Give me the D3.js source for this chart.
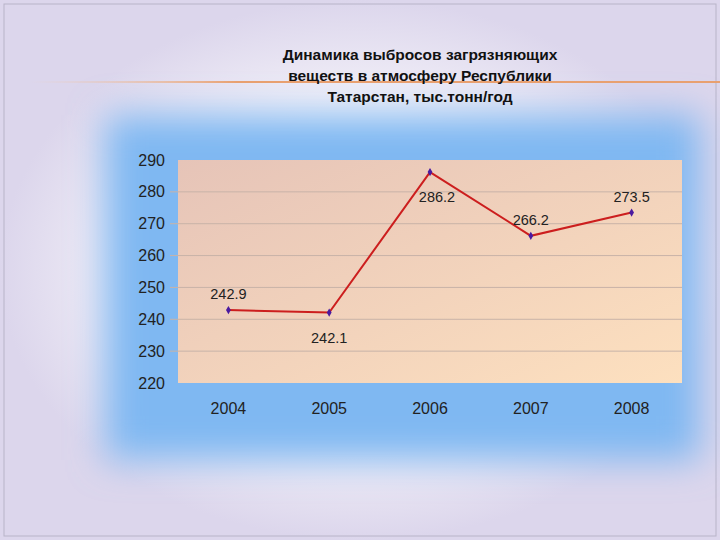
<!DOCTYPE html>
<html><head><meta charset="utf-8">
<script src="https://cdn.jsdelivr.net/npm/d3@7"></script>
<style>body{margin:0;background:#fff}svg{display:block}</style>
</head><body>
<script>
const years = ["2004", "2005", "2006", "2007", "2008"];
const values = [242.9, 242.1, 286.2, 266.2, 273.5];
const yTicks = [220, 230, 240, 250, 260, 270, 280, 290];
const labelAbove = [true, false, false, true, true];

const W = 720, H = 540;
const svg = d3.select("body").append("svg").attr("width", W).attr("height", H);
const defs = svg.append("defs");

// slide background
const rg = defs.append("radialGradient").attr("id", "bg");
rg.append("stop").attr("offset", "40%").attr("stop-color", "#ffffff");
rg.append("stop").attr("offset", "100%").attr("stop-color", "#dcd6ec");
svg.append("rect").attr("width", W).attr("height", H).attr("fill", "url(#bg)");
svg.append("rect").attr("x", 4).attr("y", 4).attr("width", W - 8).attr("height", H - 8)
  .attr("fill", "none").attr("stroke", "#b8b4c8");

// blue glow
defs.append("filter").attr("id", "blur").attr("x", "-30%").attr("y", "-30%").attr("width", "160%").attr("height", "160%")
  .append("feGaussianBlur").attr("stdDeviation", 18);
svg.append("rect").attr("x", 105).attr("y", 115).attr("width", 595).attr("height", 345)
  .attr("fill", "#7fb8f2").attr("filter", "url(#blur)");

// title and rule line
const lg = defs.append("linearGradient").attr("id", "rule");
lg.append("stop").attr("offset", "0%").attr("stop-color", "#f3c9a8").attr("stop-opacity", 0);
lg.append("stop").attr("offset", "30%").attr("stop-color", "#e8a070");
lg.append("stop").attr("offset", "100%").attr("stop-color", "#e8a070");
svg.append("rect").attr("x", 30).attr("y", 81).attr("width", 690).attr("height", 2).attr("fill", "url(#rule)");
const title = ["Динамика выбросов загрязняющих", "веществ в атмосферу Республики", "Татарстан, тыс.тонн/год"];
svg.append("g").selectAll("text").data(title).join("text")
  .attr("x", 420).attr("y", (d, i) => 60 + i * 21).attr("text-anchor", "middle")
  .attr("font-family", "Liberation Sans, Arial, sans-serif").attr("font-size", 15.5).attr("font-weight", "bold")
  .attr("fill", "#111").text(d => d);

// chart
const x = d3.scaleBand().domain(years).range([178, 682]);
const y = d3.scaleLinear().domain([220, 290]).range([383, 160]);

const pg = defs.append("linearGradient").attr("id", "plot").attr("x1", 0).attr("y1", 0).attr("x2", 1).attr("y2", 1);
pg.append("stop").attr("offset", "0%").attr("stop-color", "#e6c4b8");
pg.append("stop").attr("offset", "100%").attr("stop-color", "#fde0bf");
svg.append("rect").attr("x", 178).attr("y", y(290)).attr("width", 504).attr("height", y(220) - y(290))
  .attr("fill", "url(#plot)");

svg.append("g").selectAll("line").data(yTicks.filter(t => t > 220 && t < 290)).join("line")
  .attr("x1", 170).attr("x2", 682).attr("y1", d => y(d)).attr("y2", d => y(d))
  .attr("stroke", "#c8b3a8").attr("stroke-width", 1);

const yAxis = svg.append("g").attr("transform", "translate(165,0)")
  .call(d3.axisLeft(y).tickValues(yTicks).tickSize(0).tickPadding(0));
yAxis.select(".domain").remove();
yAxis.selectAll("text").attr("font-family", "Liberation Sans, Arial, sans-serif").attr("font-size", 16).attr("fill", "#222");

const xAxis = svg.append("g").attr("transform", "translate(0,409)")
  .call(d3.axisBottom(x).tickSize(0).tickPadding(0));
xAxis.select(".domain").remove();
xAxis.selectAll("text").attr("font-family", "Liberation Sans, Arial, sans-serif").attr("font-size", 16).attr("fill", "#222").attr("dy", "0.3em");

const cx = d => x(d) + x.bandwidth() / 2;
svg.append("path").datum(values)
  .attr("d", d3.line().x((d, i) => cx(years[i])).y(d => y(d)))
  .attr("fill", "none").attr("stroke", "#cc1e1e").attr("stroke-width", 2);
svg.append("g").selectAll("path").data(values).join("path")
  .attr("d", d3.symbol(d3.symbolDiamond, 20))
  .attr("transform", (d, i) => `translate(${cx(years[i])},${y(d)})`).attr("fill", "#4a1aa0");
svg.append("g").selectAll("text").data(values).join("text")
  .attr("x", (d, i) => cx(years[i]) + (i === 2 ? 7 : 0))
  .attr("y", (d, i) => y(d) + (labelAbove[i] ? -11 : 30))
  .attr("text-anchor", "middle").attr("font-family", "Liberation Sans, Arial, sans-serif")
  .attr("font-size", 14.5).attr("fill", "#222").text(d => d);
</script>
</body></html>
